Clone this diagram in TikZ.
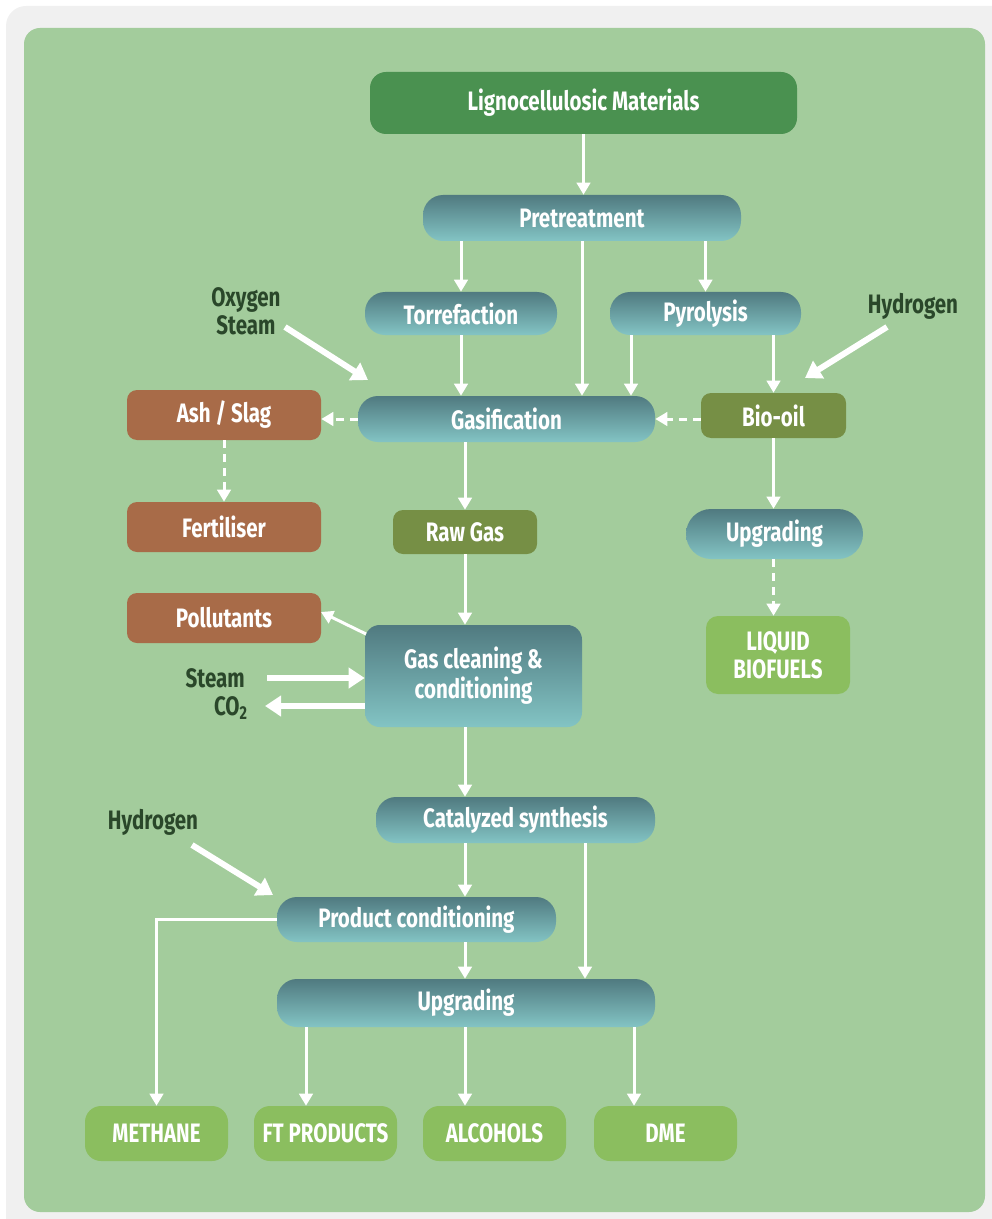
\documentclass[tikz,border=0pt]{standalone}
\usepackage{fontspec}
\setmainfont{Fira Sans}[FakeStretch=0.77]
\usetikzlibrary{arrows.meta,calc}
\definecolor{bg}{HTML}{A3CC9C}
\definecolor{framegray}{HTML}{F0F0F0}
\definecolor{dkgreen}{HTML}{4A9150}
\definecolor{olivebox}{HTML}{768F45}
\definecolor{claybox}{HTML}{A86B48}
\definecolor{limebox}{HTML}{8BBE5F}
\definecolor{ttop}{HTML}{507A80}
\definecolor{tbot}{HTML}{83C4C4}
\definecolor{lbl}{HTML}{2A472A}
\begin{document}
\begin{tikzpicture}[x=0.75pt,y=-0.75pt,
  sz/.style 2 args={minimum width=#1*0.75pt, minimum height=#2*0.75pt},
  base/.style={inner sep=0pt, text=white, font=\fontsize{20}{22.5}\selectfont\bfseries, align=center, draw=none},
  grad/.style={base, top color=ttop, bottom color=tbot, rounded corners=15pt},
  olivest/.style={base, fill=olivebox, rounded corners=7.5pt},
  clayst/.style={base, fill=claybox, rounded corners=7.5pt},
  limest/.style={base, fill=limebox, rounded corners=12pt},
  lab/.style={text=lbl, font=\fontsize{20}{21}\selectfont\bfseries, align=center, inner sep=0pt},
  arr/.style={draw=white, line width=2.25pt, -{Triangle[length=9pt,width=10pt]}},
  darr/.style={arr, dash pattern=on 6pt off 4.5pt},
  tarr/.style={draw=white, line width=4.5pt, -{Triangle[length=12pt,width=15pt]}}]
\useasboundingbox (0,0) rectangle (991,1219);
\fill[framegray, rounded corners=15pt] (6,6) rectangle (1020,1250);
\fill[bg, rounded corners=12pt] (24,28) rectangle (985,1212);

% nodes
\node[base, fill=dkgreen, rounded corners=12pt, sz={427}{62}] (lig) at (583.5,103) {Lignocellulosic Materials};
\node[grad, sz={318}{46}] (pre) at (582,218) {Pretreatment};
\node[grad, sz={192}{43}] (tor) at (461,313.5) {Torrefaction};
\node[grad, sz={191}{43}] (pyr) at (705.5,313.5) {Pyrolysis};
\node[grad, sz={297}{46}] (gas) at (506.5,419) {Gasification};
\node[olivest, sz={145}{45}] (bio) at (773.5,415.5) {Bio-oil};
\node[clayst, sz={194}{50}] (ash) at (224,415) {Ash / Slag};
\node[clayst, sz={194}{50}] (fert) at (224,527) {Fertiliser};
\node[olivest, sz={144}{44}] (raw) at (465,532) {Raw Gas};
\node[grad, rounded corners=18.75pt, sz={177}{50}] (upr) at (774.5,534) {Upgrading};
\node[limest, rounded corners=9pt, sz={144}{78}, font=\fontsize{20}{21}\selectfont\bfseries] (liq) at (778,655) {LIQUID\\BIOFUELS};
\node[clayst, sz={194}{50}] (pol) at (224,618) {Pollutants};
\node[grad, rounded corners=11pt, sz={217}{102}] (gc) at (473.5,676) {Gas cleaning \&\\conditioning};
\node[grad, sz={279}{46}] (cat) at (515.5,820) {Catalyzed synthesis};
\node[grad, sz={279}{45}] (prod) at (416.5,919.5) {Product conditioning};
\node[grad, sz={378}{48}] (upb) at (466,1003) {Upgrading};
\node[limest, sz={143}{55}] (meth) at (156.5,1133.5) {METHANE};
\node[limest, sz={143}{55}] (ft) at (325.5,1133.5) {FT PRODUCTS};
\node[limest, sz={143}{55}] (alc) at (494.5,1133.5) {ALCOHOLS};
\node[limest, sz={143}{55}] (dme) at (665.5,1133.5) {DME};

% labels
\node[lab] (oxy) at (246,311) {Oxygen\\Steam};
\node[lab] (hyd1) at (913,306) {Hydrogen};
\node[lab] (hyd2) at (153,822) {Hydrogen};
\node[lab, anchor=east] (stm) at (245,678) {Steam};
\node[lab, anchor=east] (co2) at (248,708) {CO\textsubscript{2}};

% coordinates
\coordinate (xP) at (631,0);
\coordinate (xB) at (585,0);
\coordinate (x306) at (306,0);
\coordinate (x634) at (634,0);
\coordinate (oxs) at (285,327);
\coordinate (oxe) at (368,380);
\coordinate (h1s) at (887,327);
\coordinate (h1e) at (805,378);
\coordinate (h2s) at (192,845);
\coordinate (h2e) at (273,895);
\coordinate (sts) at (267,678);
\coordinate (coe) at (265,706);
\coordinate (pols) at (366,634);
\coordinate (pole) at (321,612);

% connectors
\draw[arr] (lig.south) -- (pre.north -| lig.south);
\draw[arr] (pre.south -| tor.north) -- (tor.north);
\draw[arr] (pre.south) -- (pre.south |- gas.north);
\draw[arr] (pre.south -| pyr.north) -- (pyr.north);
\draw[arr] (tor.south) -- (tor.south |- gas.north);
\draw[arr] (pyr.south -| xP) -- (gas.north -| xP);
\draw[arr] (pyr.south -| bio.north) -- (bio.north);
\draw[darr] (bio.west |- gas.east) -- (gas.east);
\draw[darr] (gas.west) -- (ash.east |- gas.west);
\draw[darr] (ash.south) -- (fert.north);
\draw[arr] (gas.south -| raw.north) -- (raw.north);
\draw[arr] (raw.south) -- (raw.south |- gc.north);
\draw[arr] (gc.south -| raw.south) -- (cat.north -| raw.south);
\draw[arr] (bio.south) -- (upr.north -| bio.south);
\draw[darr] (upr.south -| bio.south) -- (liq.north -| bio.south);
\draw[arr] (pols) -- (pole);
\draw[arr] (cat.south -| raw.south) -- (prod.north -| raw.south);
\draw[arr] (cat.south -| xB) -- (upb.north -| xB);
\draw[arr] (prod.south -| raw.south) -- (upb.north -| raw.south);
\draw[arr] (prod.west) -- (prod.west -| meth.north) -- (meth.north);
\draw[arr] (upb.south -| x306) -- (ft.north -| x306);
\draw[arr] (upb.south -| raw.south) -- (alc.north -| raw.south);
\draw[arr] (upb.south -| x634) -- (dme.north -| x634);

\draw[tarr] (oxs) -- (oxe);
\draw[tarr] (h1s) -- (h1e);
\draw[tarr] (h2s) -- (h2e);
\draw[tarr] (sts) -- (gc.west |- sts);
\draw[tarr] (gc.west |- coe) -- (coe);
\end{tikzpicture}
\end{document}
